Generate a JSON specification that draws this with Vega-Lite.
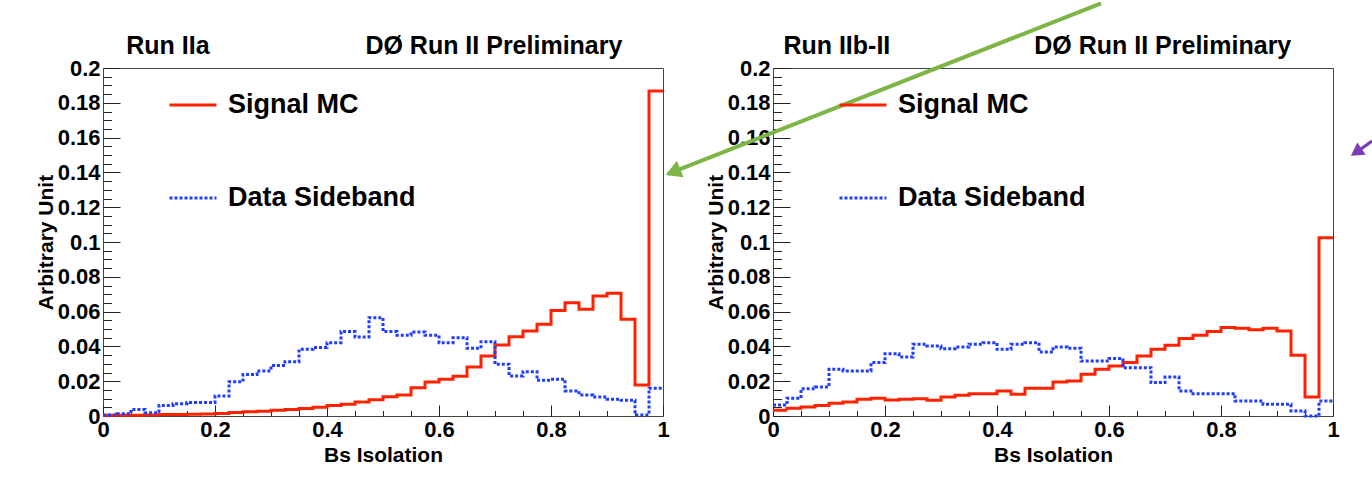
{
  "$schema": "https://vega.github.io/schema/vega-lite/v6.json",
  "background": "white",
  "padding": {"left": 34, "top": 0, "right": 0, "bottom": 5},
  "config": {
    "font": "Liberation Sans",
    "view": {"stroke": "#444", "strokeWidth": 1},
    "axis": {
      "domain": false, "grid": false, "tickColor": "#222", "tickWidth": 1,
      "labelFont": "Liberation Sans", "labelFontSize": 22, "labelFontWeight": "bold", "labelColor": "black",
      "titleFont": "Liberation Sans", "titleFontSize": 21, "titleFontWeight": "bold", "titleColor": "black",
      "labelFlush": false, "labelOverlap": false
    },
    "legend": {
      "orient": "none", "legendX": 65, "legendY": 12, "padding": 0,
      "symbolType": "stroke", "symbolSize": 2209, "symbolStrokeWidth": 3,
      "labelFont": "Liberation Sans", "labelFontSize": 27, "labelFontWeight": "bold", "labelColor": "black",
      "labelOffset": 10, "rowPadding": 55, "labelLimit": 400
    },
    "text": {"font": "Liberation Sans", "fontWeight": "bold", "color": "black"}
  },
  "datasets": {
    "iia": [
      {"x0": 0, "x1": 0.025, "Signal MC": 0.0005, "Data Sideband": 0.0006},
      {"x0": 0.025, "x1": 0.05, "Signal MC": 0.0005, "Data Sideband": 0.0013},
      {"x0": 0.05, "x1": 0.075, "Signal MC": 0.0005, "Data Sideband": 0.0038},
      {"x0": 0.075, "x1": 0.1, "Signal MC": 0.0006, "Data Sideband": 0.0019},
      {"x0": 0.1, "x1": 0.125, "Signal MC": 0.0008, "Data Sideband": 0.0061},
      {"x0": 0.125, "x1": 0.15, "Signal MC": 0.0009, "Data Sideband": 0.0071},
      {"x0": 0.15, "x1": 0.175, "Signal MC": 0.001, "Data Sideband": 0.0077},
      {"x0": 0.175, "x1": 0.2, "Signal MC": 0.0011, "Data Sideband": 0.0077},
      {"x0": 0.2, "x1": 0.225, "Signal MC": 0.0015, "Data Sideband": 0.0115},
      {"x0": 0.225, "x1": 0.25, "Signal MC": 0.002, "Data Sideband": 0.0197},
      {"x0": 0.25, "x1": 0.275, "Signal MC": 0.0024, "Data Sideband": 0.0238},
      {"x0": 0.275, "x1": 0.3, "Signal MC": 0.0028, "Data Sideband": 0.0259},
      {"x0": 0.3, "x1": 0.325, "Signal MC": 0.0033, "Data Sideband": 0.029},
      {"x0": 0.325, "x1": 0.35, "Signal MC": 0.0038, "Data Sideband": 0.0312},
      {"x0": 0.35, "x1": 0.375, "Signal MC": 0.0043, "Data Sideband": 0.0383},
      {"x0": 0.375, "x1": 0.4, "Signal MC": 0.005, "Data Sideband": 0.0393},
      {"x0": 0.4, "x1": 0.425, "Signal MC": 0.006, "Data Sideband": 0.0421},
      {"x0": 0.425, "x1": 0.45, "Signal MC": 0.0068, "Data Sideband": 0.0485},
      {"x0": 0.45, "x1": 0.475, "Signal MC": 0.008, "Data Sideband": 0.0454},
      {"x0": 0.475, "x1": 0.5, "Signal MC": 0.0093, "Data Sideband": 0.0565},
      {"x0": 0.5, "x1": 0.525, "Signal MC": 0.0111, "Data Sideband": 0.0485},
      {"x0": 0.525, "x1": 0.55, "Signal MC": 0.0121, "Data Sideband": 0.0464},
      {"x0": 0.55, "x1": 0.575, "Signal MC": 0.0163, "Data Sideband": 0.0483},
      {"x0": 0.575, "x1": 0.6, "Signal MC": 0.0195, "Data Sideband": 0.0464},
      {"x0": 0.6, "x1": 0.625, "Signal MC": 0.0211, "Data Sideband": 0.0421},
      {"x0": 0.625, "x1": 0.65, "Signal MC": 0.0228, "Data Sideband": 0.045},
      {"x0": 0.65, "x1": 0.675, "Signal MC": 0.0282, "Data Sideband": 0.0389},
      {"x0": 0.675, "x1": 0.7, "Signal MC": 0.0345, "Data Sideband": 0.0427},
      {"x0": 0.7, "x1": 0.725, "Signal MC": 0.0408, "Data Sideband": 0.0297},
      {"x0": 0.725, "x1": 0.75, "Signal MC": 0.0456, "Data Sideband": 0.023},
      {"x0": 0.75, "x1": 0.775, "Signal MC": 0.0489, "Data Sideband": 0.0255},
      {"x0": 0.775, "x1": 0.8, "Signal MC": 0.0527, "Data Sideband": 0.0205},
      {"x0": 0.8, "x1": 0.825, "Signal MC": 0.0607, "Data Sideband": 0.0211},
      {"x0": 0.825, "x1": 0.85, "Signal MC": 0.0651, "Data Sideband": 0.0144},
      {"x0": 0.85, "x1": 0.875, "Signal MC": 0.0613, "Data Sideband": 0.0121},
      {"x0": 0.875, "x1": 0.9, "Signal MC": 0.069, "Data Sideband": 0.0109},
      {"x0": 0.9, "x1": 0.925, "Signal MC": 0.0705, "Data Sideband": 0.0096},
      {"x0": 0.925, "x1": 0.95, "Signal MC": 0.0556, "Data Sideband": 0.009},
      {"x0": 0.95, "x1": 0.975, "Signal MC": 0.0178, "Data Sideband": 0.0006},
      {"x0": 0.975, "x1": 1, "Signal MC": 0.1868, "Data Sideband": 0.0159}
    ],
    "iib": [
      {"x0": 0, "x1": 0.025, "Signal MC": 0.0033, "Data Sideband": 0.0063},
      {"x0": 0.025, "x1": 0.05, "Signal MC": 0.0044, "Data Sideband": 0.0102},
      {"x0": 0.05, "x1": 0.075, "Signal MC": 0.0052, "Data Sideband": 0.0157},
      {"x0": 0.075, "x1": 0.1, "Signal MC": 0.0061, "Data Sideband": 0.0167},
      {"x0": 0.1, "x1": 0.125, "Signal MC": 0.0073, "Data Sideband": 0.0268},
      {"x0": 0.125, "x1": 0.15, "Signal MC": 0.008, "Data Sideband": 0.0259},
      {"x0": 0.15, "x1": 0.175, "Signal MC": 0.0096, "Data Sideband": 0.0259},
      {"x0": 0.175, "x1": 0.2, "Signal MC": 0.0102, "Data Sideband": 0.0307},
      {"x0": 0.2, "x1": 0.225, "Signal MC": 0.0092, "Data Sideband": 0.0358},
      {"x0": 0.225, "x1": 0.25, "Signal MC": 0.0096, "Data Sideband": 0.0339},
      {"x0": 0.25, "x1": 0.275, "Signal MC": 0.0099, "Data Sideband": 0.0412},
      {"x0": 0.275, "x1": 0.3, "Signal MC": 0.009, "Data Sideband": 0.0402},
      {"x0": 0.3, "x1": 0.325, "Signal MC": 0.0109, "Data Sideband": 0.0387},
      {"x0": 0.325, "x1": 0.35, "Signal MC": 0.0119, "Data Sideband": 0.0397},
      {"x0": 0.35, "x1": 0.375, "Signal MC": 0.0128, "Data Sideband": 0.0412},
      {"x0": 0.375, "x1": 0.4, "Signal MC": 0.0128, "Data Sideband": 0.0421},
      {"x0": 0.4, "x1": 0.425, "Signal MC": 0.0144, "Data Sideband": 0.0383},
      {"x0": 0.425, "x1": 0.45, "Signal MC": 0.0125, "Data Sideband": 0.0412},
      {"x0": 0.45, "x1": 0.475, "Signal MC": 0.0159, "Data Sideband": 0.0421},
      {"x0": 0.475, "x1": 0.5, "Signal MC": 0.0159, "Data Sideband": 0.0368},
      {"x0": 0.5, "x1": 0.525, "Signal MC": 0.0195, "Data Sideband": 0.0397},
      {"x0": 0.525, "x1": 0.55, "Signal MC": 0.0201, "Data Sideband": 0.0389},
      {"x0": 0.55, "x1": 0.575, "Signal MC": 0.024, "Data Sideband": 0.0316},
      {"x0": 0.575, "x1": 0.6, "Signal MC": 0.0268, "Data Sideband": 0.0316},
      {"x0": 0.6, "x1": 0.625, "Signal MC": 0.0287, "Data Sideband": 0.0331},
      {"x0": 0.625, "x1": 0.65, "Signal MC": 0.0307, "Data Sideband": 0.0278},
      {"x0": 0.65, "x1": 0.675, "Signal MC": 0.0345, "Data Sideband": 0.0278},
      {"x0": 0.675, "x1": 0.7, "Signal MC": 0.0383, "Data Sideband": 0.0192},
      {"x0": 0.7, "x1": 0.725, "Signal MC": 0.0406, "Data Sideband": 0.0224},
      {"x0": 0.725, "x1": 0.75, "Signal MC": 0.0446, "Data Sideband": 0.0144},
      {"x0": 0.75, "x1": 0.775, "Signal MC": 0.0464, "Data Sideband": 0.0128},
      {"x0": 0.775, "x1": 0.8, "Signal MC": 0.0485, "Data Sideband": 0.0128},
      {"x0": 0.8, "x1": 0.825, "Signal MC": 0.0508, "Data Sideband": 0.0128},
      {"x0": 0.825, "x1": 0.85, "Signal MC": 0.0504, "Data Sideband": 0.0086},
      {"x0": 0.85, "x1": 0.875, "Signal MC": 0.0496, "Data Sideband": 0.0086},
      {"x0": 0.875, "x1": 0.9, "Signal MC": 0.0504, "Data Sideband": 0.0067},
      {"x0": 0.9, "x1": 0.925, "Signal MC": 0.0489, "Data Sideband": 0.0067},
      {"x0": 0.925, "x1": 0.95, "Signal MC": 0.0349, "Data Sideband": 0.0029},
      {"x0": 0.95, "x1": 0.975, "Signal MC": 0.0109, "Data Sideband": 0.0},
      {"x0": 0.975, "x1": 1, "Signal MC": 0.1025, "Data Sideband": 0.0086}
    ],
    "labels": [
      {"panel": "IIa", "run": "Run IIa", "exp": "DØ Run II Preliminary"},
      {"panel": "IIb", "run": "Run IIb-II", "exp": "DØ Run II Preliminary"}
    ],
    "arrows": [
      {"arrow": "green", "x": 0.5857, "y": 0.2372, "x2": -0.1875, "y2": 0.1391, "hx": -0.1743, "hy": 0.1408},
      {"arrow": "purple", "x": 1.0696, "y": 0.158, "x2": 1.0375, "y2": 0.1506, "hx": 1.0446, "hy": 0.1523}
    ]
  },
  "hconcat": [
    {
      "width": 560, "height": 348,
      "layer": [
        {
          "data": {"name": "iia"},
          "transform": [
            {"fold": ["Signal MC", "Data Sideband"], "as": ["series", "v"]},
            {"fold": ["x0", "x1"], "as": ["edge", "x"]},
            {"filter": "datum.series == 'Signal MC'"}
          ],
          "mark": {"type": "line", "strokeWidth": 3, "clip": false, "strokeJoin": "miter"},
          "encoding": {
            "x": {"field": "x", "type": "quantitative", "scale": {"domain": [0, 1], "nice": false, "zero": false},
              "axis": {"orient": "bottom", "values": [0, 0.2, 0.4, 0.6, 0.8, 1], "format": "~g", "tickSize": -11, "labelPadding": 14, "title": "Bs Isolation", "titlePadding": 4}},
            "y": {"field": "v", "type": "quantitative", "scale": {"domain": [0, 0.2], "nice": false},
              "axis": {"orient": "left", "values": [0, 0.02, 0.04, 0.06, 0.08, 0.1, 0.12, 0.14, 0.16, 0.18, 0.2], "format": "~g", "tickSize": -17, "labelPadding": 20, "title": "Arbitrary Unit", "titlePadding": 1}},
            "color": {"field": "series", "type": "nominal", "scale": {"domain": ["Signal MC", "Data Sideband"], "range": ["#ff2200", "#1f3cff"]}, "legend": {"title": null}},
            "strokeDash": {"field": "series", "type": "nominal", "scale": {"domain": ["Signal MC", "Data Sideband"], "range": [[1, 0], [3, 2]]}, "legend": {"title": null}},
            "order": [{"field": "x", "type": "quantitative"}, {"field": "edge", "type": "nominal", "sort": "descending"}]
          }
        },
        {
          "data": {"name": "iia"},
          "transform": [
            {"fold": ["Signal MC", "Data Sideband"], "as": ["series", "v"]},
            {"fold": ["x0", "x1"], "as": ["edge", "x"]},
            {"filter": "datum.series == 'Data Sideband'"}
          ],
          "mark": {"type": "line", "strokeWidth": 3, "clip": false, "strokeJoin": "miter"},
          "encoding": {
            "x": {"field": "x", "type": "quantitative",
              "axis": {"orient": "bottom", "values": [0.05, 0.1, 0.15, 0.25, 0.3, 0.35, 0.45, 0.5, 0.55, 0.65, 0.7, 0.75, 0.85, 0.9, 0.95], "tickSize": -5.5, "labels": false, "title": null}},
            "y": {"field": "v", "type": "quantitative",
              "axis": {"orient": "left", "values": [0.005, 0.01, 0.015, 0.025, 0.03, 0.035, 0.045, 0.05, 0.055, 0.065, 0.07, 0.075, 0.085, 0.09, 0.095, 0.105, 0.11, 0.115, 0.125, 0.13, 0.135, 0.145, 0.15, 0.155, 0.165, 0.17, 0.175, 0.185, 0.19, 0.195], "tickSize": -8.5, "labels": false, "title": null}},
            "color": {"field": "series", "type": "nominal", "legend": {"title": null}},
            "strokeDash": {"field": "series", "type": "nominal", "legend": {"title": null}},
            "order": [{"field": "x", "type": "quantitative"}, {"field": "edge", "type": "nominal", "sort": "descending"}]
          }
        },
        {
          "data": {"name": "labels"},
          "transform": [{"filter": "datum.panel == 'IIa'"}],
          "mark": {"type": "text", "align": "center", "baseline": "middle", "fontSize": 25, "clip": false},
          "encoding": {
            "text": {"field": "run"},
            "x": {"datum": 0.116, "axis": null},
            "y": {"datum": 0.2126, "axis": null}
          }
        },
        {
          "data": {"name": "labels"},
          "transform": [{"filter": "datum.panel == 'IIa'"}],
          "mark": {"type": "text", "align": "center", "baseline": "middle", "fontSize": 25, "clip": false},
          "encoding": {
            "text": {"field": "exp"},
            "x": {"datum": 0.698, "axis": null},
            "y": {"datum": 0.2126, "axis": null}
          }
        }
      ],
      "resolve": {"axis": {"x": "independent", "y": "independent"}}
    },
    {
      "width": 560, "height": 348,
      "layer": [
        {
          "data": {"name": "iib"},
          "transform": [
            {"fold": ["Signal MC", "Data Sideband"], "as": ["series", "v"]},
            {"fold": ["x0", "x1"], "as": ["edge", "x"]},
            {"filter": "datum.series == 'Signal MC'"}
          ],
          "mark": {"type": "line", "strokeWidth": 3, "clip": false, "strokeJoin": "miter"},
          "encoding": {
            "x": {"field": "x", "type": "quantitative", "scale": {"domain": [0, 1], "nice": false, "zero": false},
              "axis": {"orient": "bottom", "values": [0, 0.2, 0.4, 0.6, 0.8, 1], "format": "~g", "tickSize": -11, "labelPadding": 14, "title": "Bs Isolation", "titlePadding": 4}},
            "y": {"field": "v", "type": "quantitative", "scale": {"domain": [0, 0.2], "nice": false},
              "axis": {"orient": "left", "values": [0, 0.02, 0.04, 0.06, 0.08, 0.1, 0.12, 0.14, 0.16, 0.18, 0.2], "format": "~g", "tickSize": -17, "labelPadding": 20, "title": "Arbitrary Unit", "titlePadding": 1}},
            "color": {"field": "series", "type": "nominal", "scale": {"domain": ["Signal MC", "Data Sideband"], "range": ["#ff2200", "#1f3cff"]}, "legend": {"title": null}},
            "strokeDash": {"field": "series", "type": "nominal", "scale": {"domain": ["Signal MC", "Data Sideband"], "range": [[1, 0], [3, 2]]}, "legend": {"title": null}},
            "order": [{"field": "x", "type": "quantitative"}, {"field": "edge", "type": "nominal", "sort": "descending"}]
          }
        },
        {
          "data": {"name": "iib"},
          "transform": [
            {"fold": ["Signal MC", "Data Sideband"], "as": ["series", "v"]},
            {"fold": ["x0", "x1"], "as": ["edge", "x"]},
            {"filter": "datum.series == 'Data Sideband'"}
          ],
          "mark": {"type": "line", "strokeWidth": 3, "clip": false, "strokeJoin": "miter"},
          "encoding": {
            "x": {"field": "x", "type": "quantitative",
              "axis": {"orient": "bottom", "values": [0.05, 0.1, 0.15, 0.25, 0.3, 0.35, 0.45, 0.5, 0.55, 0.65, 0.7, 0.75, 0.85, 0.9, 0.95], "tickSize": -5.5, "labels": false, "title": null}},
            "y": {"field": "v", "type": "quantitative",
              "axis": {"orient": "left", "values": [0.005, 0.01, 0.015, 0.025, 0.03, 0.035, 0.045, 0.05, 0.055, 0.065, 0.07, 0.075, 0.085, 0.09, 0.095, 0.105, 0.11, 0.115, 0.125, 0.13, 0.135, 0.145, 0.15, 0.155, 0.165, 0.17, 0.175, 0.185, 0.19, 0.195], "tickSize": -8.5, "labels": false, "title": null}},
            "color": {"field": "series", "type": "nominal", "legend": {"title": null}},
            "strokeDash": {"field": "series", "type": "nominal", "legend": {"title": null}},
            "order": [{"field": "x", "type": "quantitative"}, {"field": "edge", "type": "nominal", "sort": "descending"}]
          }
        },
        {
          "data": {"name": "labels"},
          "transform": [{"filter": "datum.panel == 'IIb'"}],
          "mark": {"type": "text", "align": "center", "baseline": "middle", "fontSize": 25, "clip": false},
          "encoding": {
            "text": {"field": "run"},
            "x": {"datum": 0.114, "axis": null},
            "y": {"datum": 0.2126, "axis": null}
          }
        },
        {
          "data": {"name": "labels"},
          "transform": [{"filter": "datum.panel == 'IIb'"}],
          "mark": {"type": "text", "align": "center", "baseline": "middle", "fontSize": 25, "clip": false},
          "encoding": {
            "text": {"field": "exp"},
            "x": {"datum": 0.696, "axis": null},
            "y": {"datum": 0.2126, "axis": null}
          }
        },
        {
          "data": {"name": "arrows"},
          "transform": [{"filter": "datum.arrow == 'green'"}],
          "mark": {"type": "rule", "color": "#7db546", "strokeWidth": 4, "clip": false},
          "encoding": {
            "x": {"field": "x", "type": "quantitative", "axis": null},
            "y": {"field": "y", "type": "quantitative", "axis": null},
            "x2": {"field": "x2"},
            "y2": {"field": "y2"}
          }
        },
        {
          "data": {"name": "arrows"},
          "transform": [{"filter": "datum.arrow == 'green'"}],
          "mark": {"type": "point", "shape": "triangle", "filled": true, "color": "#7db546", "opacity": 1, "size": 320, "angle": 248, "clip": false},
          "encoding": {
            "x": {"field": "hx", "type": "quantitative", "axis": null},
            "y": {"field": "hy", "type": "quantitative", "axis": null}
          }
        },
        {
          "data": {"name": "arrows"},
          "transform": [{"filter": "datum.arrow == 'purple'"}],
          "mark": {"type": "rule", "color": "#7b3db5", "strokeWidth": 3, "clip": false},
          "encoding": {
            "x": {"field": "x", "type": "quantitative", "axis": null},
            "y": {"field": "y", "type": "quantitative", "axis": null},
            "x2": {"field": "x2"},
            "y2": {"field": "y2"}
          }
        },
        {
          "data": {"name": "arrows"},
          "transform": [{"filter": "datum.arrow == 'purple'"}],
          "mark": {"type": "point", "shape": "triangle", "filled": true, "color": "#7b3db5", "opacity": 1, "size": 220, "angle": 236, "clip": false},
          "encoding": {
            "x": {"field": "hx", "type": "quantitative", "axis": null},
            "y": {"field": "hy", "type": "quantitative", "axis": null}
          }
        }
      ],
      "resolve": {"axis": {"x": "independent", "y": "independent"}}
    }
  ],
  "spacing": 110,
  "bounds": "flush",
  "resolve": {"scale": {"color": "independent", "strokeDash": "independent"}, "legend": {"color": "independent", "strokeDash": "independent"}}
}
